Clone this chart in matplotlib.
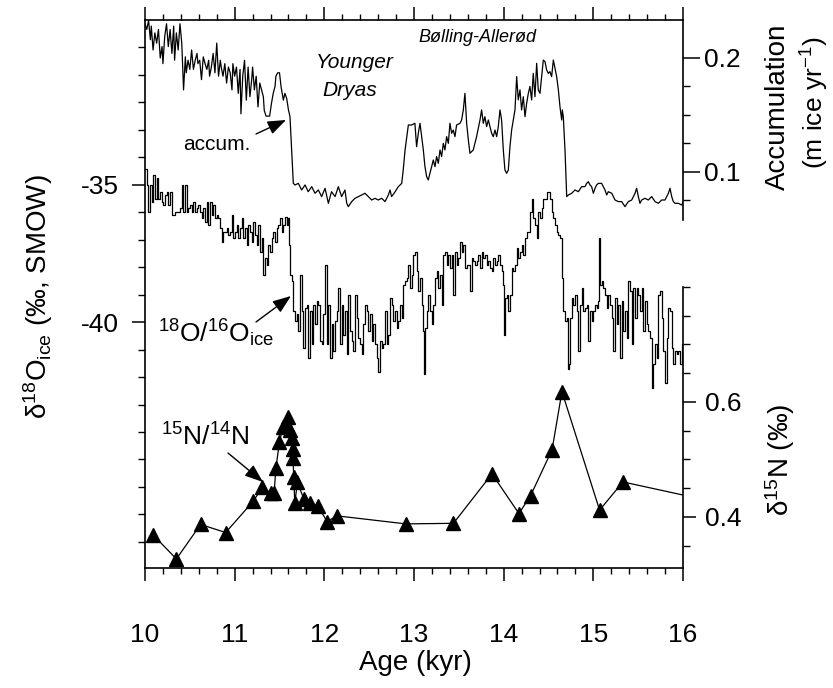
import matplotlib
matplotlib.use("Agg")
import matplotlib.pyplot as plt
from matplotlib.ticker import FixedLocator, FormatStrFormatter, MultipleLocator

plt.rcParams['font.family'] = ['Liberation Sans', 'DejaVu Sans']
plt.rcParams['mathtext.fontset'] = 'custom'
plt.rcParams['mathtext.rm'] = 'Liberation Sans'
plt.rcParams['mathtext.it'] = 'Liberation Sans:italic'
plt.rcParams['axes.unicode_minus'] = False

# ---------------- data ----------------
accum_age = [10.00, 10.02, 10.04, 10.06, 10.07, 10.09, 10.11, 10.13, 10.15, 10.17, 10.19, 10.20, 10.22, 10.24,
             10.26, 10.28, 10.30, 10.32, 10.33, 10.35, 10.37, 10.39, 10.41, 10.43, 10.45, 10.46, 10.48, 10.50,
             10.52, 10.54, 10.56, 10.58, 10.59, 10.61, 10.63, 10.65, 10.67, 10.69, 10.71, 10.72, 10.74, 10.76,
             10.78, 10.80, 10.82, 10.84, 10.85, 10.87, 10.89, 10.91, 10.93, 10.95, 10.97, 10.98, 11.00, 11.02,
             11.04, 11.06, 11.07, 11.09, 11.11, 11.13, 11.15, 11.17, 11.19, 11.20, 11.22, 11.24, 11.26, 11.28,
             11.30, 11.32, 11.33, 11.35, 11.37, 11.39, 11.41, 11.43, 11.45, 11.46, 11.48, 11.50,
             11.517, 11.543, 11.56, 11.58, 11.60, 11.617, 11.636, 11.654, 11.673, 11.71, 11.747, 11.785, 11.82,
             11.86, 11.896, 11.933, 11.97, 12.008, 12.045, 12.08, 12.12, 12.156, 12.193, 12.23, 12.25, 12.268,
             12.305, 12.342, 12.38, 12.417, 12.454, 12.49, 12.528, 12.565, 12.60, 12.64, 12.677, 12.714, 12.733,
             12.75, 12.79, 12.825, 12.863, 12.88, 12.90, 12.92, 12.937, 12.974, 13.01,
             13.029, 13.048, 13.067, 13.085, 13.104, 13.122, 13.141, 13.159, 13.178, 13.197, 13.215, 13.234,
             13.252, 13.271, 13.29, 13.308, 13.327, 13.345, 13.364, 13.383, 13.401, 13.42, 13.438, 13.457,
             13.475, 13.513, 13.531, 13.55, 13.568, 13.587, 13.606, 13.624, 13.661, 13.698, 13.736, 13.754,
             13.773, 13.791, 13.81, 13.829, 13.847, 13.866, 13.884, 13.903, 13.922, 13.94, 13.959, 13.977,
             13.996, 14.014, 14.033, 14.052, 14.07, 14.089, 14.107, 14.126, 14.145, 14.163, 14.182, 14.2,
             14.219, 14.238, 14.256, 14.275, 14.293, 14.312, 14.33, 14.349, 14.368, 14.386, 14.405, 14.423,
             14.442, 14.461, 14.479, 14.498, 14.516,
             14.535, 14.554, 14.572, 14.591, 14.61, 14.628, 14.647, 14.654, 14.665, 14.684, 14.691, 14.703,
             14.721, 14.758, 14.796, 14.833, 14.87, 14.907, 14.926, 14.944, 14.963, 14.981, 15.0, 15.019,
             15.037, 15.056, 15.093, 15.112, 15.13, 15.149, 15.167, 15.205, 15.223, 15.242, 15.279, 15.316,
             15.353, 15.39, 15.428, 15.465, 15.483, 15.502, 15.52, 15.539, 15.576, 15.613, 15.651, 15.688,
             15.725, 15.762, 15.799, 15.837, 15.855, 15.874, 15.892, 15.911, 15.948, 15.985, 16.004]
accum_val = [0.230, 0.225, 0.233, 0.216, 0.228, 0.207, 0.222, 0.213, 0.225, 0.200, 0.210, 0.195, 0.219, 0.230,
             0.210, 0.225, 0.204, 0.228, 0.198, 0.222, 0.207, 0.230, 0.213, 0.172, 0.201, 0.187, 0.198, 0.190,
             0.207, 0.190, 0.198, 0.204, 0.195, 0.198, 0.181, 0.201, 0.195, 0.190, 0.198, 0.184, 0.192, 0.204,
             0.187, 0.213, 0.184, 0.198, 0.192, 0.184, 0.195, 0.178, 0.192, 0.187, 0.172, 0.195, 0.184, 0.192,
             0.169, 0.190, 0.151, 0.184, 0.198, 0.163, 0.192, 0.166, 0.181, 0.192, 0.172, 0.184, 0.157, 0.178,
             0.172, 0.166, 0.154, 0.149, 0.149, 0.149, 0.160, 0.169, 0.175, 0.184, 0.187, 0.187,
             0.175, 0.163, 0.169, 0.1646, 0.1544, 0.1485, 0.119, 0.090, 0.0886, 0.090, 0.0842, 0.0886, 0.0827,
             0.0871, 0.0813, 0.0842, 0.0784, 0.0857, 0.0725, 0.0827, 0.0784, 0.0871, 0.0784, 0.0842, 0.0725, 0.0696,
             0.074, 0.0769, 0.0784, 0.0798, 0.0813, 0.0784, 0.0754, 0.0769, 0.0754, 0.0769, 0.074, 0.0798, 0.0842,
             0.0784, 0.0827, 0.0871, 0.090, 0.1018, 0.119, 0.131, 0.1412, 0.1412, 0.1427,
             0.1222, 0.1339, 0.1427, 0.131, 0.1193, 0.1047, 0.0959, 0.093, 0.0988, 0.1047, 0.1105, 0.1047,
             0.1135, 0.1076, 0.1193, 0.1135, 0.1251, 0.1193, 0.131, 0.1251, 0.1427, 0.1339, 0.1368, 0.131,
             0.1412, 0.1427, 0.1456, 0.1544, 0.169, 0.1427, 0.1281, 0.1164, 0.1193, 0.131, 0.1456, 0.1544,
             0.1427, 0.1485, 0.1398, 0.1456, 0.1398, 0.1339, 0.131, 0.1368, 0.131, 0.1398, 0.1544, 0.1456,
             0.1193, 0.1018, 0.0988, 0.1018, 0.1222, 0.1368, 0.1456, 0.1544, 0.1836, 0.1632, 0.172, 0.1544,
             0.166, 0.1485, 0.160, 0.169, 0.175, 0.1632, 0.1865, 0.166, 0.1953, 0.172, 0.169, 0.1836,
             0.1982, 0.1968, 0.1895, 0.1865, 0.188,
             0.1836, 0.1982, 0.191, 0.1836, 0.172, 0.1573, 0.1456, 0.1544, 0.1485, 0.1193, 0.1047, 0.0784,
             0.0798, 0.0813, 0.0842, 0.0827, 0.0871, 0.0871, 0.090, 0.0915, 0.0886, 0.0871, 0.0813, 0.0857,
             0.0886, 0.090, 0.090, 0.0871, 0.0842, 0.0798, 0.0827, 0.0813, 0.0784, 0.0754, 0.074, 0.074,
             0.0696, 0.074, 0.0754, 0.0813, 0.0857, 0.0784, 0.0725, 0.0754, 0.0769, 0.0754, 0.0784, 0.074,
             0.0725, 0.0754, 0.0754, 0.0813, 0.0857, 0.0784, 0.074, 0.0725, 0.0725, 0.071, 0.074]

d18o_age = [10.00, 10.019, 10.037, 10.056, 10.074, 10.093, 10.112, 10.13, 10.149, 10.167, 10.186, 10.204, 10.223,
            10.242, 10.26, 10.279, 10.297, 10.316, 10.335, 10.353, 10.372, 10.39, 10.409, 10.428, 10.446, 10.465,
            10.483, 10.502, 10.52, 10.539, 10.558, 10.576, 10.595, 10.613, 10.632, 10.651, 10.669, 10.688, 10.706,
            10.725, 10.743, 10.762, 10.781, 10.799, 10.818, 10.836, 10.855, 10.874, 10.892, 10.911, 10.929, 10.948,
            10.967, 10.985, 11.004, 11.022, 11.041, 11.059, 11.078, 11.097, 11.115, 11.134, 11.152, 11.171, 11.19,
            11.208, 11.227, 11.245, 11.264, 11.283, 11.301, 11.32, 11.338, 11.357, 11.375, 11.394, 11.413, 11.431,
            11.45, 11.468, 11.487, 11.506,
            11.524, 11.543, 11.562, 11.58, 11.599, 11.606, 11.617, 11.636, 11.654, 11.673, 11.692, 11.71, 11.729,
            11.747, 11.766, 11.785, 11.803, 11.822, 11.84, 11.859, 11.878, 11.896, 11.915, 11.933, 11.952, 11.97,
            11.989, 12.008, 12.026, 12.045, 12.063, 12.082, 12.1, 12.119, 12.138, 12.156, 12.175, 12.193, 12.212,
            12.231, 12.249, 12.268, 12.286, 12.305, 12.324, 12.342, 12.361, 12.379, 12.398, 12.417, 12.435, 12.454,
            12.472, 12.491, 12.51, 12.528, 12.547, 12.565, 12.584, 12.602, 12.621, 12.64, 12.658, 12.677, 12.695,
            12.714, 12.732, 12.751, 12.77, 12.788, 12.807, 12.825, 12.844, 12.863, 12.881, 12.9, 12.918, 12.937,
            12.956, 12.974, 12.993, 13.011,
            13.029, 13.048, 13.067, 13.085, 13.104, 13.111, 13.122, 13.141, 13.159, 13.178, 13.197, 13.215, 13.234,
            13.252, 13.271, 13.29, 13.308, 13.327, 13.345, 13.364, 13.383, 13.401, 13.42, 13.438, 13.457, 13.475,
            13.494, 13.513, 13.531, 13.55, 13.568, 13.587, 13.606, 13.624, 13.643, 13.661, 13.68, 13.698, 13.717,
            13.736, 13.754, 13.773, 13.791, 13.81, 13.829, 13.847, 13.866, 13.884, 13.903, 13.922, 13.94, 13.959,
            13.977, 13.996, 14.003, 14.014, 14.033, 14.052, 14.07, 14.089, 14.107, 14.126, 14.145, 14.163, 14.182,
            14.2, 14.219, 14.238, 14.256, 14.275, 14.293, 14.312, 14.33, 14.349, 14.368, 14.386, 14.405, 14.423,
            14.442, 14.461, 14.479, 14.498, 14.516,
            14.535, 14.554, 14.572, 14.591, 14.61, 14.628, 14.647, 14.665, 14.684, 14.703, 14.718, 14.729, 14.74,
            14.758, 14.777, 14.796, 14.814, 14.833, 14.851, 14.87, 14.889, 14.907, 14.926, 14.944, 14.963, 14.981,
            15.0, 15.019, 15.037, 15.056, 15.067, 15.074, 15.093, 15.112, 15.13, 15.149, 15.167, 15.186, 15.205,
            15.223, 15.242, 15.26, 15.279, 15.297, 15.316, 15.335, 15.353, 15.372, 15.39, 15.409, 15.428, 15.446,
            15.465, 15.483, 15.502, 15.52, 15.539, 15.558, 15.576, 15.595, 15.613, 15.632, 15.651, 15.669, 15.688,
            15.706, 15.725, 15.744, 15.762, 15.781, 15.799, 15.818, 15.837, 15.855, 15.874, 15.892, 15.911, 15.929,
            15.948, 15.967, 15.985, 16.004]
d18o_val = [-34.41, -35.01, -35.98, -35.01, -35.62, -34.65, -35.5, -34.77, -35.5, -35.25, -35.62, -35.74, -35.37,
            -35.25, -35.74, -35.25, -36.1, -36.1, -35.98, -35.98, -35.98, -35.86, -35.01, -35.98, -35.01, -35.98,
            -35.86, -35.74, -35.98, -35.62, -35.98, -35.86, -35.74, -35.98, -36.22, -35.86, -36.34, -35.62, -36.46,
            -35.62, -36.1, -35.74, -36.22, -36.1, -36.22, -36.58, -37.07, -36.7, -36.7, -36.58, -36.82, -36.7,
            -36.1, -36.94, -36.7, -36.46, -36.94, -36.58, -36.22, -36.94, -36.58, -37.19, -36.46, -36.7, -37.07,
            -36.34, -36.82, -37.19, -36.46, -37.43, -36.94, -38.27, -37.67, -37.91, -37.19, -37.43, -36.94, -36.7,
            -37.07, -36.58, -36.46, -36.22,
            -36.7, -36.46, -36.16, -36.46, -36.22, -37.19, -38.27, -38.51, -39.6, -39.96, -39.72, -40.33, -38.27,
            -39.6, -40.93, -39.48, -39.36, -41.29, -39.6, -40.81, -39.36, -40.08, -39.24, -39.36, -40.69, -40.81,
            -39.72, -37.91, -40.81, -39.36, -41.29, -40.08, -41.05, -39.96, -39.6, -38.76, -40.81, -39.36, -40.45,
            -39.6, -41.17, -39.0, -40.33, -40.69, -41.05, -39.0, -39.84, -40.57, -40.81, -41.17, -40.08, -39.36,
            -39.6, -40.33, -39.72, -40.69, -40.08, -40.81, -41.29, -41.8, -40.69, -40.93, -40.81, -39.6, -40.81,
            -40.45, -39.12, -39.36, -39.96, -39.6, -40.21, -39.96, -39.36, -39.84, -38.64, -38.51, -38.39, -37.91,
            -38.76, -38.27, -37.55, -37.43,
            -38.15, -38.88, -38.39, -39.36, -40.33, -41.9, -40.21, -39.6, -39.0, -39.6, -40.08, -39.36, -38.39,
            -38.15, -38.76, -38.27, -39.36, -37.55, -37.43, -37.91, -37.55, -38.03, -37.55, -39.0, -37.43, -37.91,
            -37.67, -37.07, -37.43, -37.19, -38.03, -37.91, -37.91, -38.88, -37.67, -37.79, -37.91, -37.79, -37.55,
            -38.03, -37.43, -37.67, -37.55, -37.91, -37.79, -38.03, -38.15, -37.67, -37.91, -37.79, -37.55, -37.91,
            -38.15, -38.64, -40.45, -39.12, -39.0, -39.6, -39.0, -38.03, -38.15, -37.91, -37.31, -37.67, -37.43,
            -37.19, -37.55, -36.94, -36.7, -36.7, -35.98, -35.5, -36.22, -36.46, -36.94, -35.98, -36.22, -35.86,
            -35.5, -35.5, -35.25, -35.25, -35.5,
            -35.98, -36.22, -36.46, -36.7, -36.82, -36.94, -38.39, -39.6, -39.96, -39.84, -41.7, -41.53, -39.84,
            -39.12, -39.36, -39.0, -39.6, -41.05, -39.36, -38.76, -39.6, -39.48, -39.36, -40.69, -39.6, -39.96,
            -39.6, -39.36, -39.48, -39.24, -36.94, -38.64, -38.51, -38.76, -39.0, -39.48, -39.0, -39.36, -39.84,
            -41.05, -39.12, -40.08, -39.36, -41.29, -39.24, -40.33, -39.6, -40.57, -38.51, -38.88, -40.81, -38.76,
            -39.84, -38.76, -39.0, -39.6, -38.76, -40.33, -39.24, -40.08, -40.33, -40.57, -42.4, -41.53, -40.81,
            -41.29, -39.0, -38.88, -39.84, -41.05, -42.2, -40.57, -39.48, -39.6, -40.93, -41.53, -41.05, -41.17,
            -41.05, -41.53, -40.81, -40.81]

d15n_age = [10.09, 10.35, 10.62, 10.90, 11.21, 11.31, 11.40, 11.44, 11.46, 11.50, 11.54, 11.58, 11.60, 11.62,
            11.64, 11.645, 11.65, 11.66, 11.67, 11.70, 11.77, 11.84, 11.93, 12.03, 12.14, 12.91, 13.44, 13.87,
            14.17, 14.30, 14.54, 14.65, 15.07, 15.33, 16.30]
d15n_val = [0.369, 0.327, 0.387, 0.373, 0.428, 0.452, 0.441, 0.442, 0.485, 0.531, 0.557, 0.560, 0.574, 0.551,
            0.537, 0.519, 0.502, 0.469, 0.424, 0.460, 0.432, 0.424, 0.419, 0.392, 0.402, 0.388, 0.389, 0.475,
            0.406, 0.437, 0.517, 0.618, 0.412, 0.461, 0.428]

x_ticks = [10, 11, 12, 13, 14, 15, 16]
d18o_ticks = [-40, -35]
accum_ticks = [0.1, 0.2]
d15n_ticks = [0.4, 0.6]

# ---------------- figure ----------------
W, H = 833, 688
fig = plt.figure(figsize=(W / 100, H / 100), dpi=100)
L, R, T, B = 145, 683, 20, 568
ax = fig.add_axes([L / W, 1 - B / H, (R - L) / W, (B - T) / H])

def px2fig(x, y):
    return x / W, 1 - y / H

LW = 0.9
TS = 19  # tick label size

# delta 18O (left axis)
ax.plot(d18o_age, d18o_val, drawstyle='steps-post', color='k', lw=LW)
ax.set_xlim(10, 16)
ax.set_ylim(-48.95, -29.0)
ax.spines['right'].set_visible(False)
for s in ['left', 'top', 'bottom']:
    ax.spines[s].set_linewidth(1.2)
ax.xaxis.set_major_locator(FixedLocator(x_ticks))
ax.xaxis.set_minor_locator(MultipleLocator(0.2))
ax.yaxis.set_major_locator(FixedLocator(d18o_ticks))
ax.yaxis.set_minor_locator(FixedLocator([v for v in range(-48, -29) if v not in d18o_ticks]))
ax.yaxis.set_major_formatter(FormatStrFormatter('%d'))
ax.tick_params(axis='x', which='both', direction='out', top=True, bottom=True, labeltop=False,
               labelsize=TS, pad=30)
ax.tick_params(axis='x', which='major', length=9.5, width=1.1)
ax.tick_params(axis='x', which='minor', length=4.5, width=1.0)
ax.tick_params(axis='y', which='both', direction='out', left=True, right=False, labelsize=TS, pad=9)
ax.tick_params(axis='y', which='major', length=9.5, width=1.1)
ax.tick_params(axis='y', which='minor', length=5, width=1.0)

# accumulation (upper right axis)
ax2 = ax.twinx()
ax2.plot(accum_age, accum_val, color='k', lw=LW)
ax2.set_ylim(-0.2474, 0.2333)
for s in ['left', 'top', 'bottom']:
    ax2.spines[s].set_visible(False)
ax2.spines['right'].set_bounds(0.058, 0.2333)
ax2.spines['right'].set_linewidth(1.2)
ax2.yaxis.set_major_locator(FixedLocator(accum_ticks))
ax2.yaxis.set_minor_locator(FixedLocator([0.075, 0.125, 0.15, 0.175]))
ax2.yaxis.set_major_formatter(FormatStrFormatter('%.1f'))
ax2.tick_params(axis='y', which='both', direction='out', labelsize=TS, pad=3)
ax2.tick_params(axis='y', which='major', length=12, width=1.1)
ax2.tick_params(axis='y', which='minor', length=5, width=1.0)

# delta 15N (lower right axis)
ax3 = ax.twinx()
ax3.plot(d15n_age, d15n_val, color='k', lw=LW, marker='^', markersize=10.5,
         markerfacecolor='k', markeredgecolor='k', clip_on=True)
ax3.set_ylim(0.3113, 1.2643)
for s in ['left', 'top', 'bottom']:
    ax3.spines[s].set_visible(False)
ax3.spines['right'].set_bounds(0.3113, 0.8)
ax3.spines['right'].set_linewidth(1.2)
ax3.yaxis.set_major_locator(FixedLocator(d15n_ticks))
ax3.yaxis.set_minor_locator(FixedLocator([0.35, 0.45, 0.5, 0.55, 0.65, 0.7, 0.75, 0.8]))
ax3.yaxis.set_major_formatter(FormatStrFormatter('%.1f'))
ax3.tick_params(axis='y', which='both', direction='out', labelsize=TS, pad=6)
ax3.tick_params(axis='y', which='major', length=9.5, width=1.1)
ax3.tick_params(axis='y', which='minor', length=5, width=1.0)

# ---------------- labels ----------------
fig.text(*px2fig(38, 297), r'δ$^{18}$O$_{\mathrm{ice}}$ (‰, SMOW)', rotation=90,
         ha='center', va='center', fontsize=20)
fig.text(*px2fig(778, 107), 'Accumulation', rotation=90, ha='center', va='center', fontsize=20)
fig.text(*px2fig(815, 103), r'(m ice yr$^{-1}$)', rotation=90, ha='center', va='center', fontsize=19)
fig.text(*px2fig(780, 460), r'δ$^{15}$N (‰)', rotation=90, ha='center', va='center', fontsize=20)
fig.text(*px2fig(415, 663), 'Age (kyr)', ha='center', va='center', fontsize=20)

# annotations
fig.text(*px2fig(477, 38), 'Bølling-Allerød', style='italic', ha='center', va='center', fontsize=13)
fig.text(*px2fig(355, 62), 'Younger', style='italic', ha='center', va='center', fontsize=15)
fig.text(*px2fig(350, 90), 'Dryas', style='italic', ha='center', va='center', fontsize=15)
fig.text(*px2fig(217, 145), 'accum.', ha='center', va='center', fontsize=15)
fig.text(*px2fig(158, 333), r'$^{18}$O/$^{16}$O$_{\mathrm{ice}}$', ha='left', va='center', fontsize=19)
fig.text(*px2fig(205, 437), r'$^{15}$N/$^{14}$N', ha='center', va='center', fontsize=19)

arrow_kw = dict(arrowstyle='-|>,head_length=0.8,head_width=0.3', color='k', lw=1.0,
                shrinkA=0, shrinkB=0)
fig.add_artist(matplotlib.patches.FancyArrowPatch(px2fig(256, 134), px2fig(286, 120),
               transform=fig.transFigure, mutation_scale=14, **arrow_kw))
fig.add_artist(matplotlib.patches.FancyArrowPatch(px2fig(256, 322), px2fig(291, 296),
               transform=fig.transFigure, mutation_scale=14, **arrow_kw))
fig.add_artist(matplotlib.patches.FancyArrowPatch(px2fig(228, 453), px2fig(263, 482),
               transform=fig.transFigure, mutation_scale=14, **arrow_kw))

fig.savefig('out.png', dpi=100)
